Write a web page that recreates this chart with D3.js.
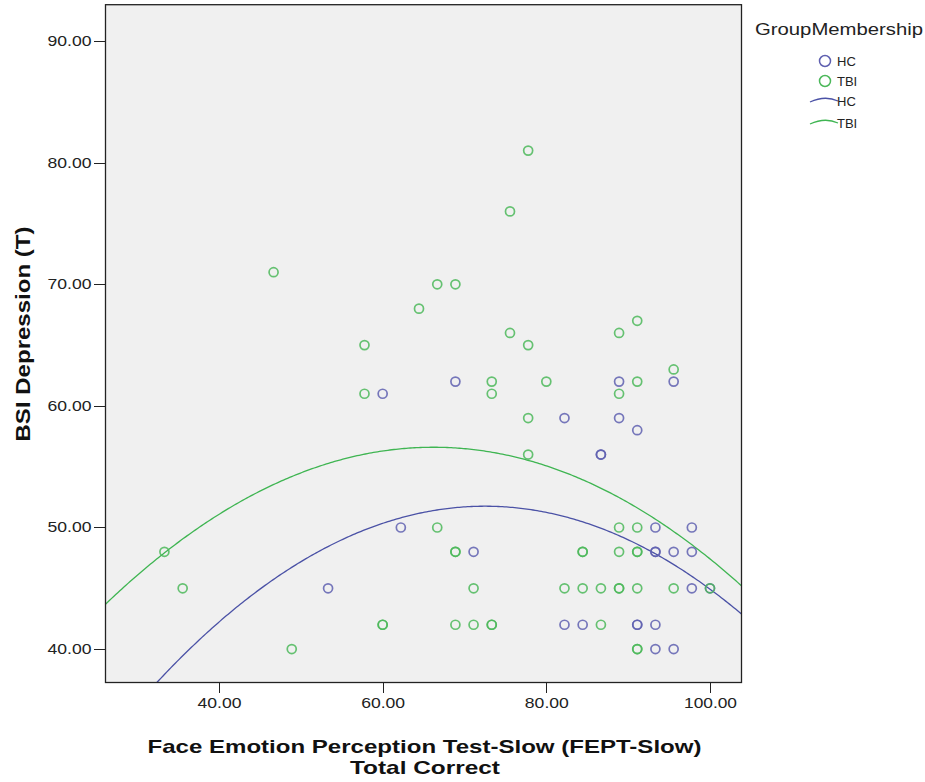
<!DOCTYPE html>
<html>
<meta charset="utf-8">
<style>
  body { margin: 0; background: #fff; }
  svg { display: block; font-family: "Liberation Sans", Arial, sans-serif; }
  .axis path, .axis line { stroke: #222; shape-rendering: crispEdges; }
  .axis text { font-size: 14px; fill: #222; }
</style>
<body>
  <svg width="925" height="782"></svg>
</body>
<script src="https://d3js.org/d3.v7.min.js"></script>
<script>

// FEPT-Slow total correct (x) and BSI depression T score (y)
var hcPoints = [
  [53.33, 45], [60.00, 61], [62.22, 50], [68.89, 62], [71.11, 48],
  [82.22, 59], [82.22, 42], [84.44, 42], [86.67, 56], [86.67, 56],
  [88.89, 62], [88.89, 59], [91.11, 58], [91.11, 42], [91.11, 42],
  [93.33, 50], [93.33, 48], [93.33, 48], [93.33, 42], [93.33, 40],
  [95.56, 62], [95.56, 48], [95.56, 40], [97.78, 50], [97.78, 48],
  [97.78, 45], [100.00, 45]
];

var tbiPoints = [
  [33.33, 48], [35.56, 45], [46.67, 71], [48.89, 40], [57.78, 65],
  [57.78, 61], [60.00, 42], [60.00, 42], [64.44, 68], [66.67, 70],
  [66.67, 50], [68.89, 70], [68.89, 48], [68.89, 48], [68.89, 42],
  [71.11, 45], [71.11, 42], [73.33, 62], [73.33, 61], [73.33, 42],
  [73.33, 42], [75.56, 76], [75.56, 66], [77.78, 81], [77.78, 65],
  [77.78, 59], [77.78, 56], [80.00, 62], [82.22, 45], [84.44, 48],
  [84.44, 48], [84.44, 45], [86.67, 45], [86.67, 42], [88.89, 66],
  [88.89, 61], [88.89, 50], [88.89, 48], [88.89, 45], [88.89, 45],
  [91.11, 67], [91.11, 62], [91.11, 50], [91.11, 48], [91.11, 48],
  [91.11, 45], [91.11, 40], [91.11, 40], [95.56, 63], [95.56, 45],
  [100.00, 45]
];

// quadratic fit lines: [peak x, peak y, curvature]
var hcFit = [72.5, 51.75, -0.00902];
var tbiFit = [66.2, 56.6, -0.00804];

var xTicks = [40, 60, 80, 100];
var yTicks = [40, 50, 60, 70, 80, 90];
var groups = ["HC", "TBI"];
var colors = {HC: "#5f60b0", TBI: "#4cb85a"};
var lineColors = {HC: "#4b52a6", TBI: "#3fb552"};

var svg = d3.select("svg");

var plot = {left: 105.5, right: 741.5, top: 4.7, bottom: 682.5};

var x = d3.scaleLinear().domain([26.13, 103.85]).range([plot.left, plot.right]);
var y = d3.scaleLinear().domain([37.25, 93]).range([plot.bottom, plot.top]);

svg.append("rect")
  .attr("x", plot.left).attr("y", plot.top)
  .attr("width", plot.right - plot.left).attr("height", plot.bottom - plot.top)
  .attr("fill", "#f0f0f0");

svg.append("clipPath").attr("id", "clip")
  .append("rect")
  .attr("x", plot.left).attr("y", plot.top)
  .attr("width", plot.right - plot.left).attr("height", plot.bottom - plot.top);

function quad(fit) {
  return function(v) { return fit[1] + fit[2] * (v - fit[0]) * (v - fit[0]); };
}

var line = d3.line()
  .x(function(d) { return x(d[0]); })
  .y(function(d) { return y(d[1]); });

var curveG = svg.append("g").attr("clip-path", "url(#clip)");
var pointG = svg.append("g");

var data = {HC: hcPoints, TBI: tbiPoints};
var fits = {HC: hcFit, TBI: tbiFit};

groups.forEach(function(g) {
  var f = quad(fits[g]);
  var xs = d3.range(x.domain()[0], x.domain()[1] + 0.1, 0.25);
  curveG.append("path")
    .datum(xs.map(function(v) { return [v, f(v)]; }))
    .attr("d", line)
    .attr("fill", "none")
    .attr("stroke", lineColors[g])
    .attr("stroke-width", 1.3);
});

groups.forEach(function(g) {
  pointG.selectAll("circle." + g)
    .data(data[g])
    .enter().append("circle")
      .attr("class", g)
      .attr("cx", function(d) { return x(d[0]); })
      .attr("cy", function(d) { return y(d[1]); })
      .attr("r", 4.5)
      .attr("fill", "none")
      .attr("stroke", colors[g])
      .attr("stroke-opacity", 0.85)
      .attr("stroke-width", 1.7);
});

// frame
svg.append("rect")
  .attr("x", plot.left).attr("y", plot.top)
  .attr("width", plot.right - plot.left).attr("height", plot.bottom - plot.top)
  .attr("fill", "none").attr("stroke", "#222").attr("stroke-width", 1.3);

var xAxis = d3.axisBottom(x).tickValues(xTicks).tickFormat(d3.format(".2f"))
  .tickSize(10).tickSizeOuter(0).tickPadding(5.5);
var yAxis = d3.axisLeft(y).tickValues(yTicks).tickFormat(d3.format(".2f"))
  .tickSize(12).tickSizeOuter(0).tickPadding(2);

var gx = svg.append("g").attr("class", "x axis")
  .attr("transform", "translate(0," + plot.bottom + ")")
  .call(xAxis);
gx.select(".domain").remove();
gx.selectAll("text")
  .attr("textLength", function(d) { return d >= 100 ? 53 : 44; })
  .attr("lengthAdjust", "spacingAndGlyphs");

var gy = svg.append("g").attr("class", "y axis")
  .attr("transform", "translate(" + plot.left + ",0)")
  .call(yAxis);
gy.select(".domain").remove();
gy.selectAll("text")
  .attr("textLength", 44)
  .attr("lengthAdjust", "spacingAndGlyphs");

// axis titles
svg.append("text")
  .attr("x", 424.5).attr("y", 753)
  .attr("text-anchor", "middle")
  .attr("font-size", 19).attr("font-weight", "bold").attr("fill", "#111")
  .attr("textLength", 554).attr("lengthAdjust", "spacingAndGlyphs")
  .text("Face Emotion Perception Test-Slow (FEPT-Slow)");
svg.append("text")
  .attr("x", 425).attr("y", 774)
  .attr("text-anchor", "middle")
  .attr("font-size", 19).attr("font-weight", "bold").attr("fill", "#111")
  .attr("textLength", 150).attr("lengthAdjust", "spacingAndGlyphs")
  .text("Total Correct");

svg.append("text")
  .attr("transform", "translate(30,334) rotate(-90)")
  .attr("text-anchor", "middle")
  .attr("font-size", 21).attr("font-weight", "bold").attr("fill", "#111")
  .attr("textLength", 215).attr("lengthAdjust", "spacingAndGlyphs")
  .text("BSI Depression (T)");

// legend
var legend = svg.append("g");
legend.append("text")
  .attr("x", 755).attr("y", 35)
  .attr("font-size", 16).attr("fill", "#222")
  .attr("textLength", 168).attr("lengthAdjust", "spacingAndGlyphs")
  .text("GroupMembership");

groups.forEach(function(g, i) {
  var cy = 61 + i * 20;
  legend.append("circle")
    .attr("cx", 825).attr("cy", cy).attr("r", 5.5)
    .attr("fill", "none").attr("stroke", colors[g]).attr("stroke-width", 1.5);
  legend.append("text")
    .attr("x", 837).attr("y", cy + 5)
    .attr("font-size", 13).attr("fill", "#222")
    .text(g);
});

groups.forEach(function(g, i) {
  var ly = 100 + i * 22;
  legend.append("path")
    .attr("d", "M810," + (ly + 2) + " Q825," + (ly - 5) + " 838," + (ly + 1))
    .attr("fill", "none").attr("stroke", lineColors[g]).attr("stroke-width", 1.3);
  legend.append("text")
    .attr("x", 837).attr("y", ly + 6)
    .attr("font-size", 13).attr("fill", "#222")
    .text(g);
});

</script>
</html>
